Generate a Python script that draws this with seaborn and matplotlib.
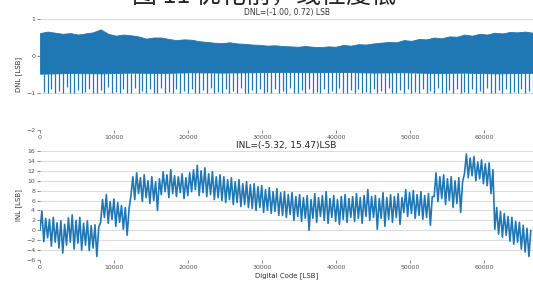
import numpy as np
import pandas as pd
import seaborn as sns
import matplotlib
matplotlib.use("Agg")
import matplotlib.pyplot as plt

# ---- data ----
tooth = 512  # codes per sawtooth step

# INL: lows / highs of every tooth (8 teeth per 4096-code segment)
inl_low = [
    0.0, -2.3, -1.5, -3.2, -2.4, -3.6, -4.6, -3.0,
    -2.4, -3.8, -2.6, -4.0, -3.0, -4.1, -3.6, -5.3,
    1.6, 2.6, 1.4, 2.2, 0.8, 1.6, 0.2, -1.0,
    7.0, 6.2, 7.4, 5.8, 6.6, 5.4, 6.0, 4.0,
    7.2, 7.8, 6.6, 7.4, 6.8, 7.6, 6.4, 7.0,
    7.8, 8.2, 7.0, 7.6, 6.8, 7.2, 6.2, 6.6,
    6.0, 5.6, 6.2, 5.2, 5.6, 4.8, 5.2, 4.6,
    4.4, 4.0, 4.6, 3.6, 4.0, 3.4, 3.8, 3.0,
    3.0, 2.6, 3.2, 2.0, 2.8, 1.8, 2.4, 0.0,
    2.4, 1.6, 2.8, 2.0, 1.4, 2.6, 1.8, 1.2,
    2.2, 1.6, 2.6, 1.8, 2.4, 1.4, 2.8, 2.0,
    2.6, 0.2, 2.4, 0.8, 2.2, 1.6, 2.6, 1.2,
    3.6, 2.8, 3.4, 2.4, 3.0, 2.2, 2.6, 1.0,
    6.8, 5.8, 6.4, 5.2, 6.0, 4.6, 5.4, 3.6,
    11.4, 10.6, 11.0, 10.0, 10.4, 9.4, 9.0, 7.4,
    0.2, -0.8, -1.4, -1.0, -2.2, -2.8, -2.4, -3.8,
    -4.4, -5.3,
]
inl_high = [
    3.9, 2.4, 2.2, 2.6, 1.5, 1.9, 1.2, 2.5,
    3.1, 2.0, 2.6, 1.4, 1.9, 0.9, 1.1, 0.6,
    6.2, 7.2, 5.8, 6.3, 5.6, 5.0, 4.6, 4.4,
    10.8, 11.6, 10.6, 11.2, 10.0, 10.8, 9.8, 10.4,
    11.8, 11.2, 12.2, 11.0, 10.8, 11.4, 10.6, 11.6,
    12.2, 13.1, 12.0, 12.6, 11.4, 11.8, 10.8, 11.2,
    10.8, 10.2, 10.6, 9.8, 10.2, 9.4, 9.8, 9.2,
    9.4, 8.8, 9.0, 8.2, 8.6, 7.8, 8.4, 7.6,
    7.8, 7.2, 7.6, 6.8, 7.2, 6.6, 7.0, 6.2,
    7.4, 6.6, 7.0, 7.8, 6.4, 7.0, 6.2, 6.8,
    7.2, 6.4, 6.8, 7.4, 6.6, 7.0, 8.2, 6.8,
    7.0, 6.4, 7.6, 6.6, 7.2, 6.8, 7.4, 6.6,
    8.2, 7.6, 8.0, 7.2, 7.8, 7.0, 7.4, 6.8,
    11.6, 10.8, 11.2, 10.4, 10.8, 10.0, 10.6, 9.8,
    15.4, 14.6, 14.9, 13.8, 14.2, 13.4, 13.6, 12.2,
    4.6, 3.8, 3.4, 2.8, 2.6, 1.8, 1.6, 1.0,
    0.4, 0.0,
]

# DNL: upper edge of the dense band (every 1024 codes), lower edge (every 4096)
dnl_top = [
    0.62, 0.66, 0.63, 0.60, 0.62, 0.58, 0.61, 0.64,
    0.72, 0.60, 0.55, 0.58, 0.56, 0.53, 0.47, 0.50,
    0.50, 0.46, 0.43, 0.45, 0.44, 0.40, 0.38, 0.36,
    0.35, 0.37, 0.34, 0.33, 0.31, 0.30, 0.28, 0.29,
    0.27, 0.26, 0.25, 0.27, 0.25, 0.24, 0.26, 0.25,
    0.30, 0.28, 0.32, 0.31, 0.34, 0.36, 0.38, 0.37,
    0.43, 0.41, 0.46, 0.45, 0.50, 0.48, 0.53, 0.52,
    0.58, 0.55, 0.60, 0.58, 0.63, 0.61, 0.65, 0.64,
    0.66, 0.63, 0.66,
]
dnl_bottom = [-0.48, -0.46, -0.47, -0.45, -0.46, -0.44, -0.45, -0.44, -0.43,
              -0.44, -0.43, -0.45, -0.44, -0.46, -0.45, -0.47, -0.46]
# missing-code spikes at each tooth boundary
spike_depth = [
    -0.97, -1.0, -0.9, -1.0, -0.95, -1.0, -0.85, -1.0, -1.0, -0.92,
    -1.0, -0.97, -0.88, -1.0, -1.0, -0.93, -1.0, -0.85, -1.0, -0.96,
    -1.0, -0.9, -1.0, -1.0, -0.87, -1.0, -0.95, -1.0, -0.9, -1.0,
    -1.0, -0.86, -1.0, -0.97, -1.0, -0.9, -1.0, -0.94, -1.0, -0.88,
    -1.0, -1.0, -0.92, -1.0, -0.86, -1.0, -0.97, -1.0, -0.9, -1.0,
    -0.95, -1.0, -0.87, -1.0, -1.0, -0.93, -1.0, -0.88, -1.0, -0.97,
    -1.0, -0.9, -1.0, -0.94, -1.0, -0.86, -1.0, -1.0, -0.92, -1.0,
    -0.88, -1.0, -0.97, -1.0, -0.9, -1.0, -0.95, -1.0, -0.87, -1.0,
    -1.0, -0.93, -1.0, -0.88, -1.0, -0.97, -1.0, -0.9, -1.0, -0.94,
    -1.0, -0.86, -1.0, -1.0, -0.92, -1.0, -0.88, -1.0, -0.97, -1.0,
    -0.9, -1.0, -0.95, -1.0, -0.87, -1.0, -1.0, -0.93, -1.0, -0.88,
    -1.0, -0.97, -1.0, -0.9, -1.0, -0.94, -1.0, -0.86, -1.0, -1.0,
    -0.92, -1.0, -0.88, -1.0, -0.97, -1.0, -0.9, -1.0, -0.95, -1.0,
]

x_ticks = [0, 10000, 20000, 30000, 40000, 50000, 60000]
blue = "#1f77b4"

# ---- build frames ----
n = len(inl_low)
inl_df = pd.DataFrame({
    "code": np.ravel(np.column_stack([np.arange(n) * tooth, np.arange(n) * tooth + tooth // 2])),
    "inl": np.ravel(np.column_stack([inl_low, inl_high])),
})
top_df = pd.DataFrame({"code": np.arange(len(dnl_top)) * 1024, "v": dnl_top})
bot_codes = np.arange(len(dnl_bottom)) * 4096
spike_codes = np.arange(len(spike_depth)) * tooth + tooth - 1
spike_top = np.interp(spike_codes, bot_codes, dnl_bottom)

sns.set_style("ticks")
plt.rcParams["font.family"] = ["DejaVu Sans"]

fig = plt.figure(figsize=(5.33, 2.84), dpi=100)
ax1 = fig.add_axes([40 / 533, 1 - 130 / 284, 493 / 533, 111 / 284])
ax2 = fig.add_axes([40 / 533, 1 - 260 / 284, 493 / 533, 109 / 284])

# DNL band
bottom_on_top = np.interp(top_df["code"], bot_codes, dnl_bottom)
ax1.fill_between(top_df["code"], bottom_on_top, top_df["v"], color=blue, lw=0.6, zorder=3)
ax1.vlines(spike_codes, spike_depth, spike_top, color=blue, lw=0.9, zorder=3)
ax1.set_ylim(-2, 1)
ax1.set_yticks([-2, -1, 0, 1])
ax1.set_title("DNL=(-1.00, 0.72) LSB", fontsize=5.5, color="#333333", pad=3)
ax1.set_ylabel("DNL [LSB]", fontsize=5, color="#333333", labelpad=3)

# INL sawtooth
sns.lineplot(data=inl_df, x="code", y="inl", ax=ax2, color=blue, lw=1.2, zorder=3)
ax2.set_ylim(-6, 16)
ax2.set_yticks(range(-6, 17, 2))
ax2.set_title("INL=(-5.32, 15.47)LSB", fontsize=6.5, color="#222222", pad=2)
ax2.set_ylabel("INL [LSB]", fontsize=5, color="#333333", labelpad=3)
ax2.set_xlabel("Digital Code [LSB]", fontsize=5, color="#333333", labelpad=2)

for ax in (ax1, ax2):
    ax.set_xlim(0, 66600)
    ax.set_xticks(x_ticks)
    ax.grid(axis="y", color="#dcdcdc", lw=0.8, zorder=0)
    ax.grid(axis="x", visible=False)
    ax.tick_params(labelsize=4.5, length=2, width=0.5, colors="#555555", pad=1.5)
    sns.despine(ax=ax, left=True, bottom=True, right=True, top=True)

# caption of the page, mostly cut off at the top edge
fig.text(0.495, 0.990, "图 11 优化前，线性度低", fontsize=18,
         family=["Noto Sans CJK SC", "DejaVu Sans"], ha="center", va="baseline")

fig.savefig("out.png", dpi=100)
